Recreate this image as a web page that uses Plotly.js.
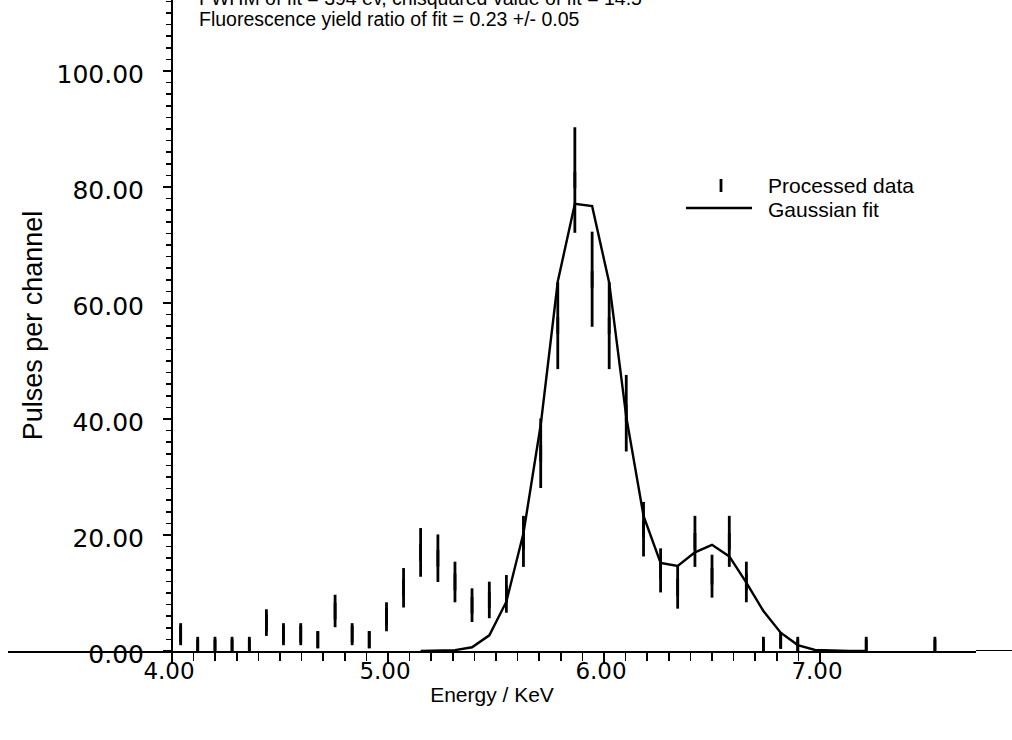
<!DOCTYPE html>
<html>
<head>
<meta charset="utf-8">
<script src="https://cdn.plot.ly/plotly-3.0.1.min.js"></script>
<style>
  html, body { margin: 0; padding: 0; background: #ffffff; }
  #chart { width: 1012px; height: 740px; }
</style>
</head>
<body>
<div id="chart"></div>
<script>
// Processed data: channel energy (keV), pulses per channel, error bar half-length
const dataEnergy = [4.040, 4.119, 4.199, 4.278, 4.358, 4.437, 4.516, 4.596, 4.675, 4.755,
                    4.834, 4.913, 4.993, 5.072, 5.151, 5.231, 5.310, 5.389, 5.469, 5.548,
                    5.627, 5.707, 5.786, 5.865, 5.945, 6.024, 6.103, 6.183, 6.262, 6.341,
                    6.421, 6.500, 6.580, 6.659, 6.738, 6.818, 6.897, 7.214, 7.532];
const dataPulses = [2.9, 1, 1, 1, 1, 4.9, 2.9, 2.9, 1.95, 6.9,
                    2.9, 1.95, 5.9, 10.9, 17.0, 16.0, 11.9, 7.9, 8.8, 9.85,
                    18.9, 34.1, 56.1, 81.2, 64.1, 56.1, 41.0, 21.0, 13.9, 11.0,
                    18.9, 12.9, 18.9, 11.9, 1, 1.8, 1, 1, 1];
const dataError  = [1.9, 1, 1, 1, 1, 2.3, 1.9, 1.9, 1.5, 2.8,
                    1.9, 1.5, 2.5, 3.4, 4.2, 4.1, 3.5, 2.9, 3.15, 3.25,
                    4.4, 6.0, 7.5, 9.1, 8.2, 7.5, 6.6, 4.7, 3.8, 3.7,
                    4.4, 3.7, 4.4, 3.5, 1, 1.3, 1, 1, 1];

// Gaussian fit polyline
const fitEnergy = [5.151, 5.231, 5.310, 5.389, 5.469, 5.548, 5.627, 5.707, 5.786, 5.865,
                   5.945, 6.024, 6.103, 6.183, 6.262, 6.341, 6.421, 6.500, 6.580, 6.659,
                   6.738, 6.818, 6.897, 6.977, 7.056, 7.135, 7.214];
const fitPulses = [0, 0.02, 0.15, 0.64, 2.7, 8.5, 20.3, 39.0, 63.7, 77.1,
                   76.7, 63.5, 40.4, 23.3, 15.2, 14.65, 17.0, 18.3, 16.3, 11.8,
                   6.9, 3.16, 1.03, 0.17, 0.02, 0, 0];

// Tick labels
const xTickVals = [4, 5, 6, 7];
const xTickText = ['4.00', '5.00', '6.00', '7.00'];
const yTickVals = [0, 20, 40, 60, 80, 100];
const yTickText = ['0.00', '20.00', '40.00', '60.00', '80.00', '100.00'];

const titleLine1 = 'FWHM of fit = 394 ev, chisquared value of fit = 14.5';
const titleLine2 = 'Fluorescence yield ratio of fit = 0.23 +/- 0.05';
const legendNames = ['Processed data', 'Gaussian fit'];

const xMinorTicks = [];
for (let i = 41; i < 70; i++) { if (i % 10 !== 0) xMinorTicks.push(i / 10); }

const TEXT_FONT = 'Liberation Sans, Arial, sans-serif';
const NUM_FONT = 'DejaVu Sans, sans-serif';

// pixel helpers for placing annotation/legend items on the page (plot area: x 8..976, y 0..651)
const PW = 968, PH = 651, PL = 8;
const px = v => (v - PL) / PW;
const py = v => 1 - v / PH;

const traces = [
  {
    type: 'scatter',
    mode: 'markers',
    name: legendNames[0],
    x: dataEnergy,
    y: dataPulses,
    marker: { symbol: 'line-ns', size: 12, color: '#000', line: { color: '#000', width: 2.8 } },
    error_y: { type: 'data', array: dataError, visible: true, color: '#000', thickness: 2.8, width: 0 },
    showlegend: false
  },
  {
    type: 'scatter',
    mode: 'lines',
    name: legendNames[1],
    x: fitEnergy,
    y: fitPulses,
    line: { color: '#000', width: 2.4 },
    showlegend: false
  }
];

const layout = {
  width: 1012,
  height: 740,
  margin: { l: PL, r: 36, t: 0, b: 89, pad: 0 },
  paper_bgcolor: '#fff',
  plot_bgcolor: '#fff',
  showlegend: false,
  xaxis: {
    range: [3.2407, 7.7222],
    showgrid: false,
    zeroline: false,
    showline: true,
    linecolor: '#000',
    linewidth: 2,
    ticks: 'outside',
    tickmode: 'array',
    tickvals: xTickVals,
    ticktext: xTickText,
    ticklen: 11,
    tickwidth: 2,
    tickcolor: '#000',
    ticklabelstandoff: -13,
    ticklabelshift: -3,
    tickfont: { family: NUM_FONT, size: 23, color: '#000' },
    minor: { tickmode: 'array', tickvals: xMinorTicks, ticks: 'outside', ticklen: 8, tickwidth: 1.6, tickcolor: '#000', showgrid: false },
    title: { text: 'Energy / KeV', font: { family: TEXT_FONT, size: 21, color: '#000' }, standoff: 5 }
  },
  yaxis: {
    range: [0, 112.24],
    anchor: 'free',
    position: 0.16942,
    showgrid: false,
    zeroline: false,
    showline: true,
    linecolor: '#000',
    linewidth: 2,
    ticks: 'outside',
    tickmode: 'array',
    tickvals: yTickVals,
    ticktext: yTickText,
    ticklen: 8,
    tickwidth: 2,
    tickcolor: '#000',
    ticklabelstandoff: 14,
    ticklabelshift: 3,
    tickfont: { family: NUM_FONT, size: 25, color: '#000' },
    minor: { dtick: 2, ticks: 'outside', ticklen: 5, tickwidth: 1.6, tickcolor: '#000', showgrid: false },
    title: { text: 'Pulses per channel', font: { family: TEXT_FONT, size: 27, color: '#000' }, standoff: 5 }
  },
  shapes: [
    // right-hand continuation of the x axis line
    { type: 'line', xref: 'paper', yref: 'y', x0: 1, x1: 1.04, y0: 0, y1: 0, line: { color: '#000', width: 2 } },
    // legend symbols
    { type: 'line', xref: 'paper', yref: 'paper', x0: px(721), x1: px(721), y0: py(179), y1: py(192), line: { color: '#000', width: 2.8 } },
    { type: 'line', xref: 'paper', yref: 'paper', x0: px(686), x1: px(752), y0: py(208), y1: py(208), line: { color: '#000', width: 2.4 } }
  ],
  annotations: [
    { xref: 'paper', yref: 'paper', x: px(197), y: py(-2), xanchor: 'left', yanchor: 'middle', showarrow: false,
      text: titleLine1, font: { family: TEXT_FONT, size: 19.5, color: '#000' } },
    { xref: 'paper', yref: 'paper', x: px(197), y: py(19), xanchor: 'left', yanchor: 'middle', showarrow: false,
      text: titleLine2, font: { family: TEXT_FONT, size: 19.5, color: '#000' } },
    { xref: 'paper', yref: 'paper', x: px(766), y: py(185), xanchor: 'left', yanchor: 'middle', showarrow: false,
      text: legendNames[0], font: { family: TEXT_FONT, size: 21, color: '#000' } },
    { xref: 'paper', yref: 'paper', x: px(766), y: py(209), xanchor: 'left', yanchor: 'middle', showarrow: false,
      text: legendNames[1], font: { family: TEXT_FONT, size: 21, color: '#000' } }
  ]
};

Plotly.newPlot('chart', traces, layout, { displayModeBar: false, staticPlot: true });
</script>
</body>
</html>
